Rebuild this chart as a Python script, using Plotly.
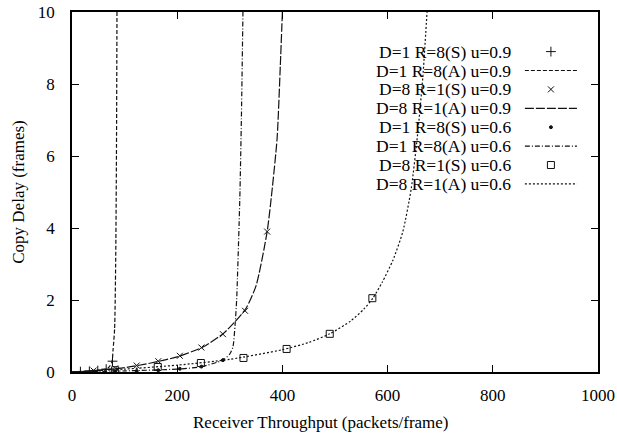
import plotly.graph_objects as go

# ---------------- data ----------------
# D=1 R=8 (A) u=0.9  (dashed)
a1_x = [0, 20, 40, 60, 70, 76, 78, 81, 83, 84.5, 85.5]
a1_y = [0, 0.01, 0.03, 0.07, 0.13, 0.28, 0.6, 1.2, 3.0, 6.0, 10.0]
# D=1 R=8 (S) u=0.9  (+)
s1_x = [16, 33, 49, 65, 77]
s1_y = [0.01, 0.02, 0.04, 0.08, 0.3]

# D=8 R=1 (A) u=0.9  (long dash)
a2_x = [0, 50, 100, 150, 200, 250, 290, 330, 350, 371, 380, 390, 396, 400]
a2_y = [0, 0.05, 0.12, 0.25, 0.42, 0.7, 1.1, 1.75, 2.4, 3.9, 5.0, 6.5, 8.5, 10.0]
# D=8 R=1 (S) u=0.9  (x)
s2_x = [41, 82, 123, 164, 205, 246, 287, 329, 371]
s2_y = [0.04, 0.1, 0.18, 0.3, 0.45, 0.68, 1.05, 1.7, 3.9]

# D=1 R=8 (A) u=0.6  (dash-dot)
a3_x = [0, 100, 200, 243, 287, 300, 306, 310, 313, 319, 322, 325]
a3_y = [0, 0.03, 0.08, 0.14, 0.33, 0.5, 0.7, 1.3, 2.0, 4.8, 7.0, 10.0]
# D=1 R=8 (S) u=0.6  (dot)
s3_x = [41, 82, 123, 164, 205, 246, 287]
s3_y = [0.01, 0.02, 0.03, 0.05, 0.09, 0.15, 0.33]

# D=8 R=1 (A) u=0.6  (dotted)
a4_x = [0, 100, 200, 300, 400, 450, 490, 530, 555, 572, 590, 610, 629, 645, 657, 667, 675]
a4_y = [0, 0.08, 0.19, 0.35, 0.62, 0.82, 1.06, 1.42, 1.75, 2.05, 2.5, 3.1, 3.9, 5.1, 6.6, 8.2, 10.0]
# D=8 R=1 (S) u=0.6  (square)
s4_x = [82, 163, 245, 326, 408, 490, 571]
s4_y = [0.05, 0.14, 0.25, 0.39, 0.64, 1.06, 2.05]

x_ticks = [0, 200, 400, 600, 800, 1000]
y_ticks = [0, 2, 4, 6, 8, 10]

labels = [
    "D=1 R=8(S) u=0.9",
    "D=1 R=8(A) u=0.9",
    "D=8 R=1(S) u=0.9",
    "D=8 R=1(A) u=0.9",
    "D=1 R=8(S) u=0.6",
    "D=1 R=8(A) u=0.6",
    "D=8 R=1(S) u=0.6",
    "D=8 R=1(A) u=0.6",
]
x_title = "Receiver Throughput (packets/frame)"
y_title = "Copy Delay (frames)"

FONT = "Liberation Serif"
INK = "#111111"

# styles for each legend entry: ("marker", symbol, size) or ("line", dash)
styles = [
    ("marker", "cross-thin-open", 7),
    ("line", "4px,2px"),
    ("marker", "x-thin-open", 6),
    ("line", "9px,2px"),
    ("marker", "circle", 3),
    ("line", "5px,2px,1px,2px"),
    ("marker", "square-open", 7),
    ("line", "2px,2px"),
]

fig = go.Figure()

series = [
    (s1_x, s1_y, styles[0]),
    (a1_x, a1_y, styles[1]),
    (s2_x, s2_y, styles[2]),
    (a2_x, a2_y, styles[3]),
    (s3_x, s3_y, styles[4]),
    (a3_x, a3_y, styles[5]),
    (s4_x, s4_y, styles[6]),
    (a4_x, a4_y, styles[7]),
]

for (xs, ys, st), name in zip(series, labels):
    if st[0] == "line":
        fig.add_trace(go.Scatter(
            x=xs, y=ys, mode="lines", name=name, showlegend=False,
            line=dict(color=INK, width=1.2, dash=st[1], shape="spline", smoothing=0.6),
        ))
    else:
        fig.add_trace(go.Scatter(
            x=xs, y=ys, mode="markers", name=name, showlegend=False,
            marker=dict(symbol=st[1], size=st[2], color=INK,
                        line=dict(color=INK, width=1)),
        ))

# ---------------- custom gnuplot-style key (text right, sample left) ----------------
key_text_x = 0.838
key_s0, key_s1 = 0.861, 0.960
key_y0 = 0.890
key_dy = 0.0525
for i, (name, st) in enumerate(zip(labels, styles)):
    yk = key_y0 - i * key_dy
    fig.add_annotation(
        xref="paper", yref="paper", x=key_text_x, y=yk, text=name,
        showarrow=False, xanchor="right", yanchor="middle",
        font=dict(family=FONT, size=17.5, color="black"),
    )
    if st[0] == "line":
        fig.add_trace(go.Scatter(
            x=[key_s0, key_s1], y=[yk, yk], xaxis="x2", yaxis="y2",
            mode="lines", showlegend=False, hoverinfo="skip",
            line=dict(color=INK, width=1.2, dash=st[1]),
        ))
    else:
        fig.add_trace(go.Scatter(
            x=[(key_s0 + key_s1) / 2], y=[yk], xaxis="x2", yaxis="y2",
            mode="markers", showlegend=False, hoverinfo="skip",
            marker=dict(symbol=st[1], size=st[2], color=INK,
                        line=dict(color=INK, width=1)),
        ))

# x-axis title (slightly left of plot centre, as in the reference)
fig.add_annotation(
    xref="paper", yref="paper", x=0.473, y=0, yshift=-50, text=x_title,
    showarrow=False, xanchor="center", yanchor="middle",
    font=dict(family=FONT, size=17, color="black"),
)

axis_common = dict(
    showgrid=False, zeroline=False, showline=True, linecolor="black", linewidth=1.5,
    mirror="ticks", ticks="inside", ticklen=7, tickcolor="black", tickwidth=1,
    tickfont=dict(family=FONT, size=17, color="black"), automargin=False,
)

fig.update_layout(
    width=617, height=436,
    margin=dict(l=72, r=19, t=12, b=64),
    paper_bgcolor="white", plot_bgcolor="white",
    xaxis=dict(range=[0, 1000], tickvals=x_ticks, ticklabelstandoff=7, **axis_common),
    yaxis=dict(range=[0, 10], tickvals=y_ticks, ticklabelstandoff=12,
               title=dict(text=y_title,
                          font=dict(family=FONT, size=17, color="black"), standoff=9),
               **axis_common),
    xaxis2=dict(range=[0, 1], overlaying="x", visible=False, fixedrange=True),
    yaxis2=dict(range=[0, 1], overlaying="y", visible=False, fixedrange=True),
    showlegend=False,
)

fig.write_html("out.html")
